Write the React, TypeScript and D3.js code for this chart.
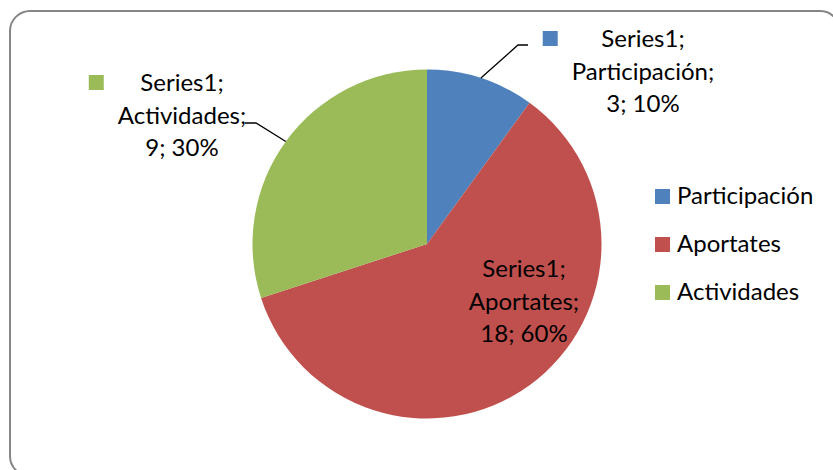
import React, { useEffect, useRef } from 'react';
import * as d3 from 'd3';

const categories = ['Participación', 'Aportates', 'Actividades'];
const values = [3, 18, 9];
const seriesName = 'Series1';
const colors = ['#4F81BD', '#C0504D', '#9BBB59'];

const width = 833;
const height = 470;
const cx = 427;
const cy = 244;
const radius = 174.5;
const font = 'Lato, "Noto Sans", sans-serif';
const fontSize = 24;

// label layout: center x, first baseline, elbow of leader line, end of leader line
const labelLayout = [
  { x: 643, y: 47, marker: true, elbow: [518, 45], end: [528, 45] },
  { x: 524, y: 277, marker: false, elbow: null, end: null },
  { x: 182, y: 91, marker: true, elbow: [256, 123], end: [245, 123] },
];

export default function App() {
  const ref = useRef<SVGSVGElement>(null);

  useEffect(() => {
    const svg = d3.select(ref.current);
    svg.selectAll('*').remove();

    svg.append('rect')
      .attr('x', 10).attr('y', 11)
      .attr('width', 830).attr('height', 465)
      .attr('rx', 20).attr('ry', 20)
      .attr('fill', '#fff')
      .attr('stroke', '#868686')
      .attr('stroke-width', 2);

    const total = d3.sum(values);
    const pie = d3.pie<number>().sort(null).value((d) => d);
    const arcs = pie(values);
    const arc = d3.arc<d3.PieArcDatum<number>>().innerRadius(0).outerRadius(radius);

    const g = svg.append('g').attr('transform', `translate(${cx}, ${cy})`);
    g.selectAll('path')
      .data(arcs)
      .enter()
      .append('path')
      .attr('d', arc)
      .attr('fill', (d, i) => colors[i]);

    // leader lines
    arcs.forEach((a, i) => {
      const l = labelLayout[i];
      if (!l.elbow) return;
      const mid = (a.startAngle + a.endAngle) / 2;
      const px = cx + radius * Math.sin(mid);
      const py = cy - radius * Math.cos(mid);
      svg.append('polyline')
        .attr('points', `${px},${py} ${l.elbow[0]},${l.elbow[1]} ${l.end[0]},${l.end[1]}`)
        .attr('fill', 'none')
        .attr('stroke', '#000')
        .attr('stroke-width', 1.3);
    });

    // data labels
    arcs.forEach((a, i) => {
      const l = labelLayout[i];
      const pct = Math.round((values[i] / total) * 100);
      const lines = [`${seriesName};`, `${categories[i]};`, `${values[i]}; ${pct}%`];
      const t = svg.append('text')
        .attr('text-anchor', 'middle')
        .attr('font-family', font)
        .attr('font-size', fontSize)
        .attr('fill', '#000');
      lines.forEach((s, k) => {
        t.append('tspan').attr('x', l.x).attr('y', l.y + k * 32.5).text(s);
      });
      if (l.marker) {
        const box = (t.node() as SVGTextElement).getBBox();
        svg.append('rect')
          .attr('x', box.x - 29)
          .attr('y', l.y - 16)
          .attr('width', 15).attr('height', 15)
          .attr('fill', colors[i]);
      }
    });

    // legend
    const legend = svg.append('g');
    categories.forEach((c, i) => {
      const y = 204 + i * 48;
      legend.append('rect')
        .attr('x', 655).attr('y', y - 15)
        .attr('width', 15).attr('height', 15)
        .attr('fill', colors[i]);
      legend.append('text')
        .attr('x', 677).attr('y', y)
        .attr('font-family', font)
        .attr('font-size', fontSize)
        .attr('fill', '#000')
        .text(c);
    });
  }, []);

  return (
    <svg
      ref={ref}
      width={width}
      height={height}
      style={{ position: 'fixed', left: 0, top: 0, background: '#fff' }}
    />
  );
}
